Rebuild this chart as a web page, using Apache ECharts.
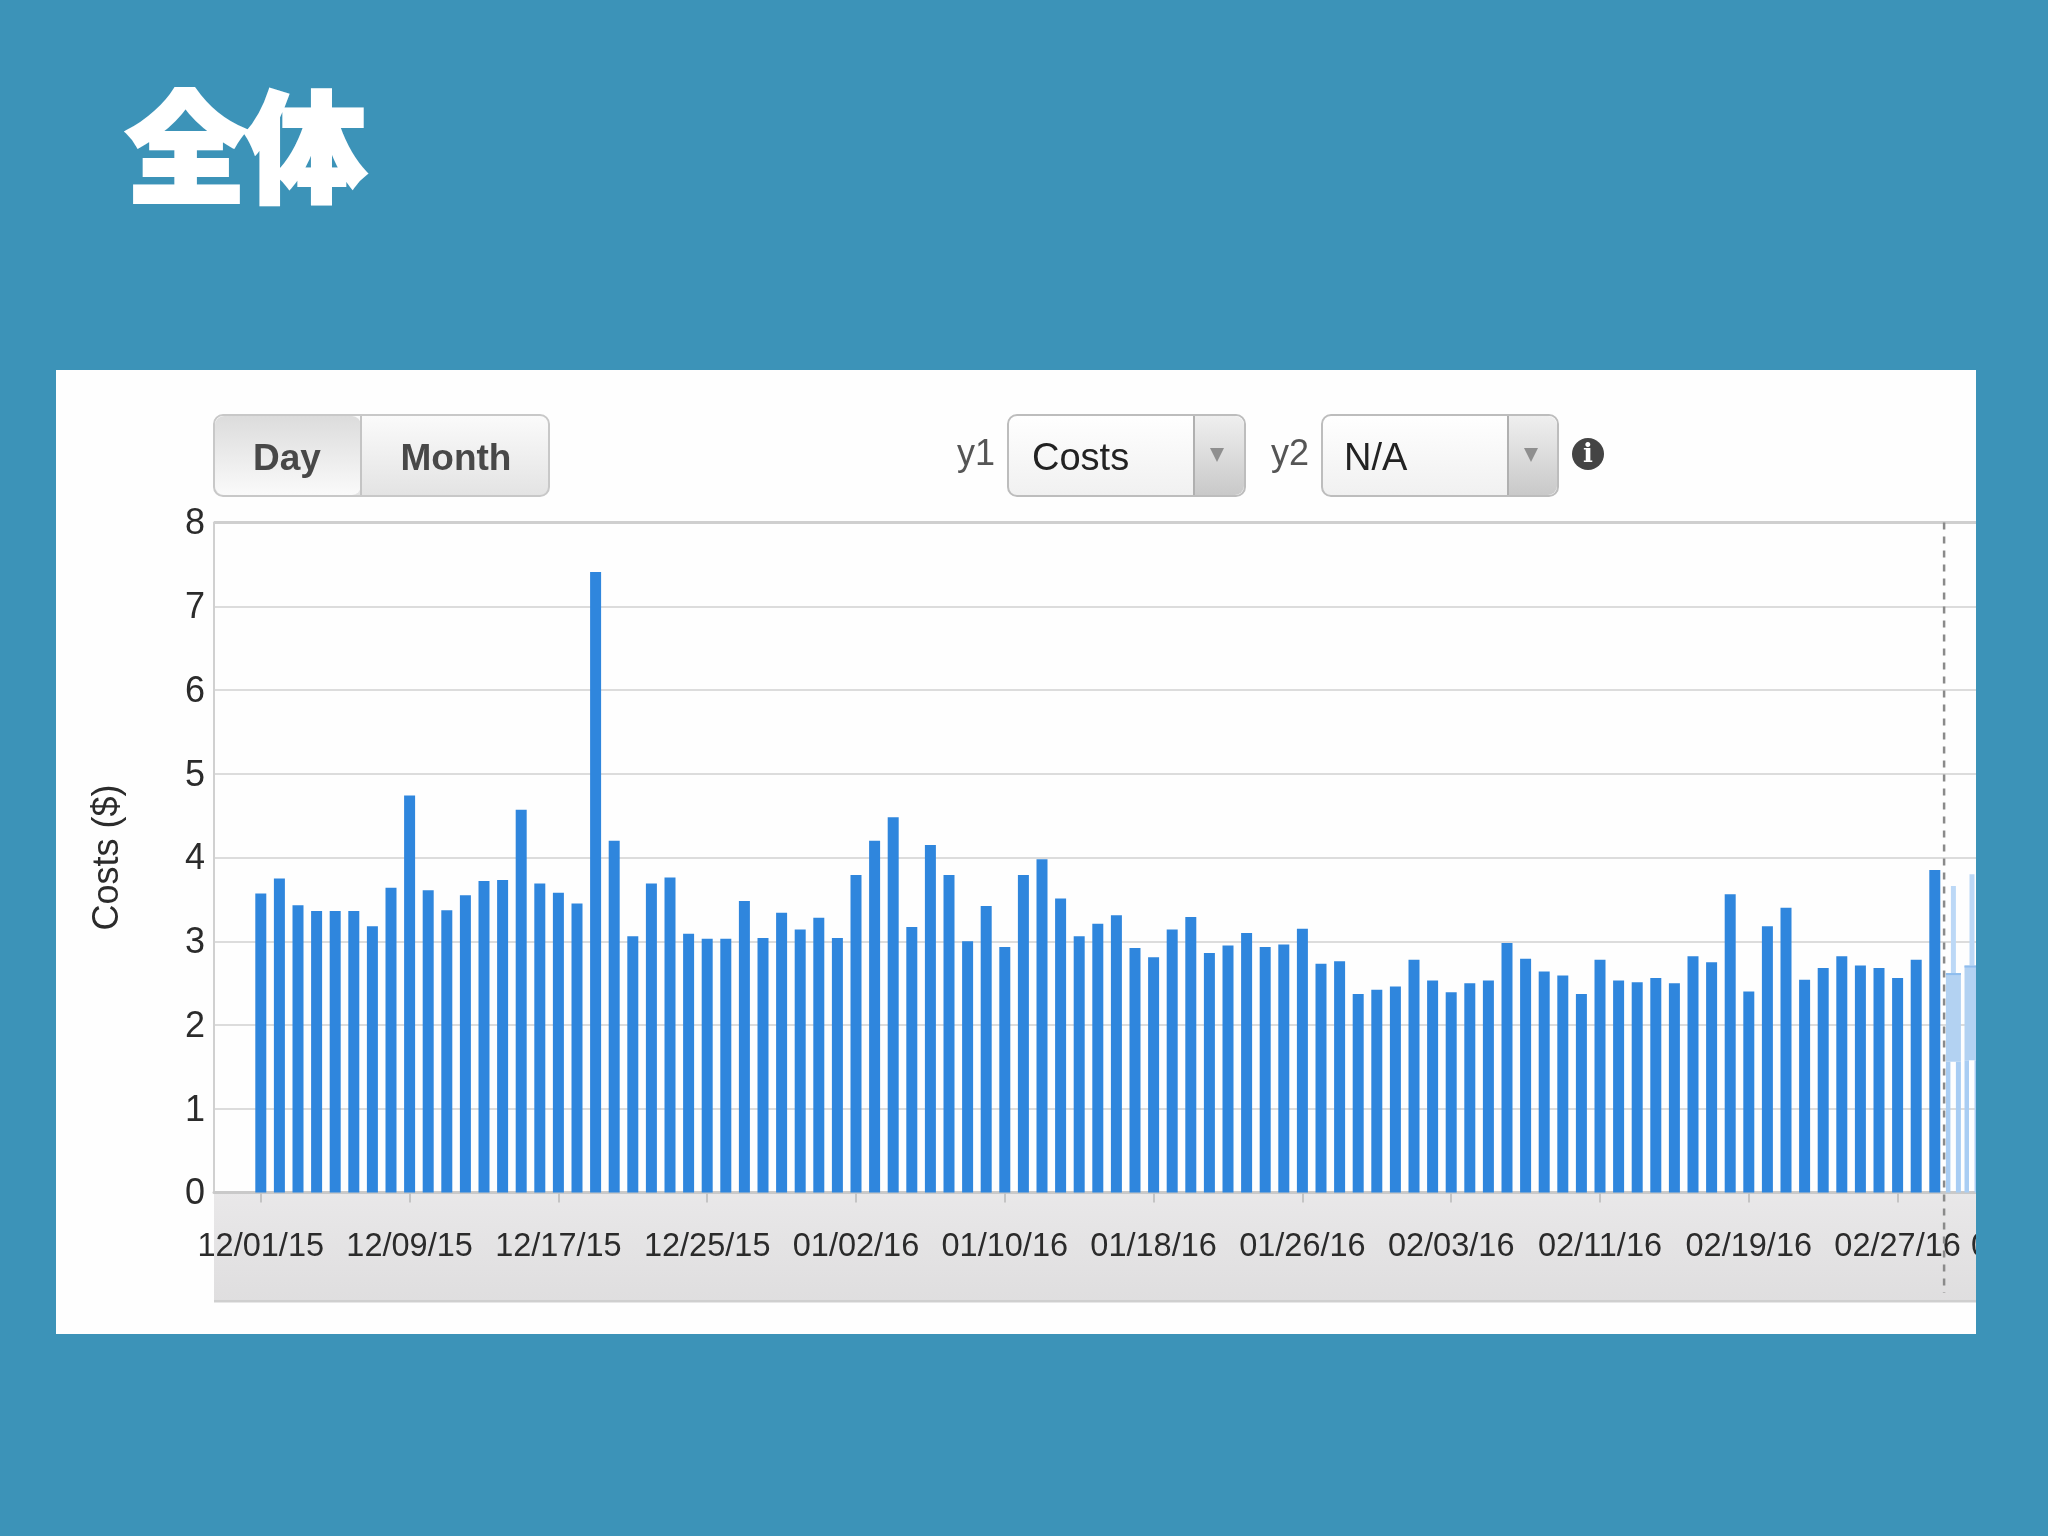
<!DOCTYPE html>
<html><head><meta charset="utf-8">
<style>html,body{margin:0;padding:0;background:#3c93b8}#c{width:2048px;height:1536px}</style>
<script src="https://cdn.jsdelivr.net/npm/echarts@6/dist/echarts.min.js"></script>
</head><body><div id="c"></div>
<script>
const costs = [3.57,3.75,3.43,3.36,3.36,3.36,3.18,3.64,4.74,3.61,3.37,3.55,3.72,3.73,4.57,3.69,3.58,3.45,7.41,4.2,3.06,3.69,3.76,3.09,3.03,3.03,3.48,3.04,3.34,3.14,3.28,3.04,3.79,4.2,4.48,3.17,4.15,3.79,3.0,3.42,2.93,3.79,3.98,3.51,3.06,3.21,3.31,2.92,2.81,3.14,3.29,2.86,2.95,3.1,2.93,2.96,3.15,2.73,2.76,2.37,2.42,2.46,2.78,2.53,2.39,2.5,2.53,2.98,2.79,2.64,2.59,2.37,2.78,2.53,2.51,2.56,2.5,2.82,2.75,3.56,2.4,3.18,3.4,2.54,2.68,2.82,2.71,2.68,2.56,2.78,3.85];
const forecastDays = [91, 92];
const forecastLow = [1.56, 1.58];
const forecastMid = [2.62, 2.71];
const forecastHigh = [3.66, 3.80];
const tickDays = [0,8,16,24,32,40,48,56,64,72,80,88,95.35];
const tickLabels = ['12/01/15','12/09/15','12/17/15','12/25/15','01/02/16','01/10/16','01/18/16','01/26/16','02/03/16','02/11/16','02/19/16','02/27/16','03/05/16'];
const todayMark = [90.5];
const titleText = '全体';
const yName = 'Costs ($)';

const FONT = '"Liberation Sans", Arial, sans-serif';
const grad = (a,b)=>({type:'linear',x:0,y:0,x2:0,y2:1,colorStops:[{offset:0,color:a},{offset:1,color:b}]});
const rect = (x,y,w,h,fill,z,r,stroke)=>({type:'rect',shape:{x,y,width:w,height:h,r:r||0},style:{fill,stroke:stroke||null,lineWidth:stroke?2:0},z:z,silent:true});
const txt = (x,y,text,font,fill,align,z)=>({type:'text',x,y,style:{text,font,fill,align:align||'center',verticalAlign:'middle'},z:z||5,silent:true});

const chart = echarts.init(document.getElementById('c'), null, {renderer:'canvas'});
chart.setOption({
  animation:false,
  backgroundColor:'#3c93b8',
  title:{text:titleText,left:121,top:67,textStyle:{color:'#fff',fontSize:120,fontWeight:900,fontFamily:'"Noto Sans CJK JP"',lineHeight:150,textBorderColor:'#fff',textBorderWidth:4}},
  grid:{left:214,top:522.5,width:1851,height:670,containLabel:false,outerBoundsMode:'none'},
  xAxis:{type:'value',min:-2.516,max:97,
    axisLine:{show:true,lineStyle:{color:'#c9c9c9',width:3}},
    axisTick:{show:true,customValues:tickDays,length:10,lineStyle:{color:'#c4c4c4',width:2}},
    axisLabel:{show:true,customValues:tickDays,margin:38,fontFamily:FONT,fontSize:32.5,color:'#2b2b2b',
      formatter:v=>tickLabels[tickDays.indexOf(v)]},
    splitLine:{show:false}},
  yAxis:{type:'value',min:0,max:8,interval:1,name:yName,nameLocation:'middle',nameGap:88,nameRotate:90,
    nameTextStyle:{fontFamily:FONT,fontSize:36,color:'#2b2b2b'},
    axisLine:{show:true,onZero:false,lineStyle:{color:'#d0d0d0',width:2}},axisTick:{show:false},
    axisLabel:{margin:9,fontFamily:FONT,fontSize:36,color:'#2b2b2b',verticalAlign:'top',lineHeight:4},
    splitLine:{show:true,lineStyle:{color:'#dcdcdc',width:2}}},
  series:[
    {type:'bar',barWidth:11,itemStyle:{color:'#2f86dd'},data:costs.map((v,i)=>[i,v]),z:3},
    {type:'custom',z:4,clip:false,data:forecastDays.map((d,i)=>[d,forecastLow[i],forecastMid[i],forecastHigh[i]]),
     encode:{x:0,y:3},
     renderItem:(p,api)=>{
       const d=api.value(0),lo=api.coord([d,api.value(1)]),mi=api.coord([d,api.value(2)]),hi=api.coord([d,api.value(3)]),b=api.coord([d,0]);
       const cx=lo[0];
       const r=(x,y,w,h,fill)=>({type:'rect',shape:{x,y,width:w,height:h},style:{fill}});
       return {type:'group',children:[
         r(cx-7.5,lo[1],4.5,b[1]-lo[1],'#a9cdf3'),
         r(cx+2.5,lo[1],5,b[1]-lo[1],'#a9cdf3'),
         r(cx-2.5,hi[1],5,mi[1]-hi[1],'#bcd8f6'),
         r(cx-7.5,mi[1],15,lo[1]-mi[1],'#b3d2f2'),
         r(cx-7.5,mi[1],15,2,'#8fbdee')
       ]};
     }},
    {type:'custom',z:6,clip:false,data:todayMark.map(v=>[v,8]),encode:{x:0,y:1},
     renderItem:(p,api)=>{
       const a=api.coord([api.value(0),8]),b=api.coord([api.value(0),-1.2]);
       return {type:'line',shape:{x1:a[0],y1:a[1],x2:b[0],y2:b[1]},style:{stroke:'#8a8a8a',lineWidth:2.5,lineDash:[7,7]}};
     }}
  ],
  graphic:{elements:[
    rect(56,370,1920,964,'#fefefe',-10),
    rect(214,1192,1762,109,grad('#e9e8e9','#dfdedf'),-9),
    rect(214,1300,1762,2.5,'#cfcfcf',-8),
    rect(214,521,1762,3,'#cfcfcf',1),
    rect(214,415,335,81,grad('#fbfbfb','#e3e3e3'),5,9,'#c8c8c8'),
    rect(215,416,146,79,grad('#dcdcdc','#fafafa'),5,9),
    rect(360,416,2,79,'#c4c4c4',5),
    txt(287,460,'Day','bold 37px '+FONT,'#484848'),
    txt(456,460,'Month','bold 37px '+FONT,'#484848'),
    txt(976,455,'y1','36px '+FONT,'#555'),
    rect(1008,415,237,81,grad('#ffffff','#f0f0f0'),5,9,'#bdbdbd'),
    rect(1194,416,50,79,grad('#efefef','#c9c9c9'),5,[0,9,9,0]),
    rect(1193,416,2,79,'#b0b0b0',5),
    {type:'polygon',shape:{points:[[1210,448],[1224,448],[1217,462]]},style:{fill:'#8f8f8f'},z:6,silent:true},
    txt(1032,460,'Costs','38px '+FONT,'#222','left'),
    txt(1290,455,'y2','36px '+FONT,'#555'),
    rect(1322,415,236,81,grad('#ffffff','#f0f0f0'),5,9,'#bdbdbd'),
    rect(1508,416,49,79,grad('#efefef','#c9c9c9'),5,[0,9,9,0]),
    rect(1507,416,2,79,'#b0b0b0',5),
    {type:'polygon',shape:{points:[[1524,448],[1538,448],[1531,462]]},style:{fill:'#8f8f8f'},z:6,silent:true},
    txt(1344,460,'N/A','38px '+FONT,'#222','left'),
    {type:'circle',shape:{cx:1588,cy:454,r:16},style:{fill:'#444'},z:5,silent:true},
    txt(1588,455,'i','bold 26px "DejaVu Serif"','#fff','center',6),
    rect(1976,360,72,1000,'#3c93b8',50)
  ]}
});
</script></body></html>
